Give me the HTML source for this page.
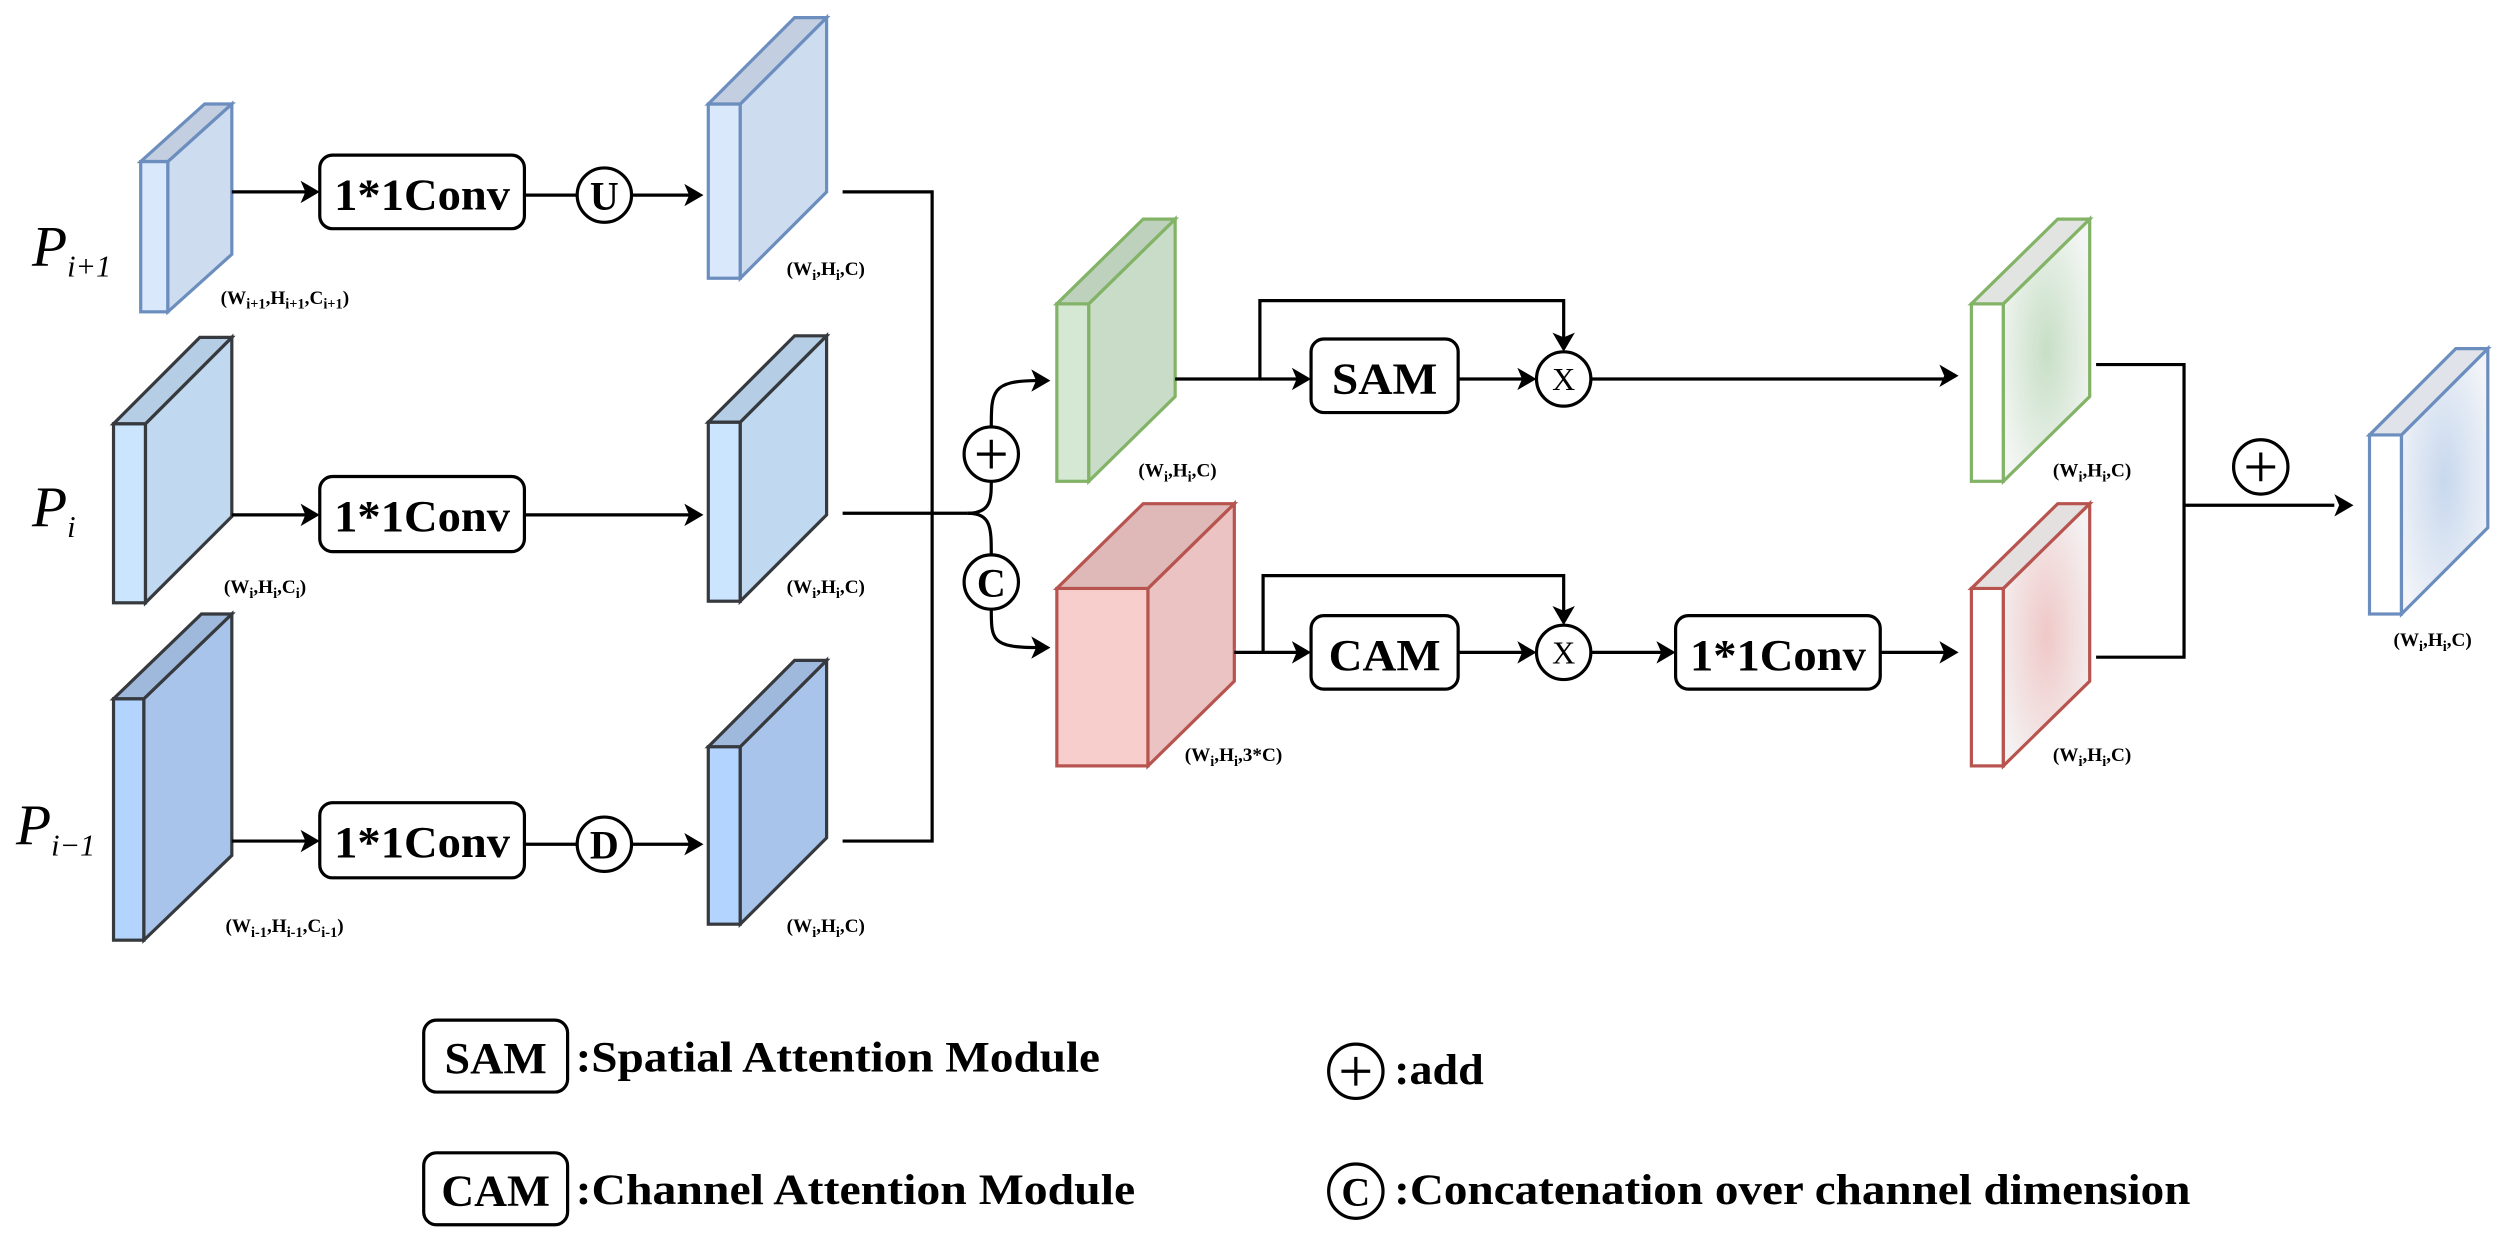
<!DOCTYPE html>
<html><head><meta charset="utf-8"><style>
html,body{margin:0;padding:0;background:#fff;}
svg{display:block;}
text{font-family:"Liberation Serif",serif;font-weight:bold;fill:#000;}
text.n, tspan.n{font-weight:normal;}
</style></head><body>
<svg width="2507" height="1244" viewBox="0 0 1568 778" xmlns="http://www.w3.org/2000/svg">
<defs>
<radialGradient id="gg" cx="0.5" cy="0.5" r="0.6"><stop offset="0" stop-color="#c7dfc6"/><stop offset="1" stop-color="#f4f6f4"/></radialGradient>
<radialGradient id="gr" cx="0.5" cy="0.5" r="0.6"><stop offset="0" stop-color="#f0c8c8"/><stop offset="1" stop-color="#f4f2f2"/></radialGradient>
<radialGradient id="gb" cx="0.5" cy="0.5" r="0.6"><stop offset="0" stop-color="#c8d8ee"/><stop offset="1" stop-color="#f2f4f8"/></radialGradient>
</defs>
<g stroke-width="2">
<g stroke="#6c8ebf"><rect x="88" y="101" width="17" height="94" fill="#dae8fc"/><path d="M105,101L145,65L145,159L105,195Z" fill="#cddcef"/><path d="M88,101L128,65L145,65L105,101Z" fill="#c3cfe0"/></g>
<g stroke="#36393d"><rect x="71" y="265" width="20" height="112" fill="#cce5ff"/><path d="M91,265L145,211L145,323L91,377Z" fill="#c0d8f0"/><path d="M71,265L125,211L145,211L91,265Z" fill="#b6cde6"/></g>
<g stroke="#36393d"><rect x="71" y="437" width="19" height="151" fill="#b3d4ff"/><path d="M90,437L145,384L145,535L90,588Z" fill="#a9c4eb"/><path d="M71,437L126,384L145,384L90,437Z" fill="#9fb9dc"/></g>
<g stroke="#6c8ebf"><rect x="443" y="65" width="20" height="109" fill="#dae8fc"/><path d="M463,65L517,11L517,120L463,174Z" fill="#cddcef"/><path d="M443,65L497,11L517,11L463,65Z" fill="#c3cfe0"/></g>
<g stroke="#36393d"><rect x="443" y="264" width="20" height="112" fill="#cce5ff"/><path d="M463,264L517,210L517,322L463,376Z" fill="#c0d8f0"/><path d="M443,264L497,210L517,210L463,264Z" fill="#b6cde6"/></g>
<g stroke="#36393d"><rect x="443" y="467" width="20" height="111" fill="#b3d4ff"/><path d="M463,467L517,413L517,524L463,578Z" fill="#a9c4eb"/><path d="M443,467L497,413L517,413L463,467Z" fill="#9fb9dc"/></g>
<g stroke="#82b366"><rect x="661" y="190" width="20" height="111" fill="#d5e8d4"/><path d="M681,190L735,137L735,248L681,301Z" fill="#c9dcc8"/><path d="M661,190L715,137L735,137L681,190Z" fill="#bed1bd"/></g>
<g stroke="#b85450"><rect x="661" y="368" width="57" height="111" fill="#f8cecc"/><path d="M718,368L772,315L772,426L718,479Z" fill="#ebc3c2"/><path d="M661,368L715,315L772,315L718,368Z" fill="#deb9b8"/></g>
<g stroke="#82b366"><rect x="1233" y="190" width="20" height="111" fill="#fff"/><path d="M1253,190L1307,137L1307,248L1253,301Z" fill="url(#gg)"/><path d="M1233,190L1287,137L1307,137L1253,190Z" fill="#e2e4e2"/></g>
<g stroke="#b85450"><rect x="1233" y="368" width="20" height="111" fill="#fff"/><path d="M1253,368L1307,315L1307,426L1253,479Z" fill="url(#gr)"/><path d="M1233,368L1287,315L1307,315L1253,368Z" fill="#e4e0e0"/></g>
<g stroke="#6c8ebf"><rect x="1482" y="272" width="20" height="112" fill="#fff"/><path d="M1502,272L1556,218L1556,330L1502,384Z" fill="url(#gb)"/><path d="M1482,272L1536,218L1556,218L1502,272Z" fill="#e0e3ea"/></g>
</g>

<g stroke="#000" stroke-width="2" fill="none">
<path d="M145,120H192"/><path d="M328,122H361"/><path d="M395,122H432"/>
<path d="M145,322H192"/><path d="M328,322H432"/>
<path d="M145,526H192"/><path d="M328,528H361"/><path d="M395,528H432"/>
<path d="M527,120H583V526H527"/>
<path d="M527,321H605"/>
<path d="M605,321C620,321 620,312 620,301"/><path d="M620,267C620,245 620,238 649,238"/>
<path d="M605,321C620,321 620,330 620,347"/><path d="M620,381C620,400 620,405 649,405"/>
<path d="M735,237H812"/><path d="M788,237V188H978V212"/>
<path d="M912,237H953"/><path d="M995,237H1217"/>
<path d="M772,408H812"/><path d="M790,408V360H978V383"/>
<path d="M912,408H953"/><path d="M995,408H1040"/><path d="M1176,408H1217"/>
<path d="M1311,228H1366V411H1311"/><path d="M1366,316H1460"/>
</g>
<g fill="#000">
<path d="M200,120l-12,-7 3,7 -3,7z"/>
<path d="M440,122l-12,-7 3,7 -3,7z"/>
<path d="M200,322l-12,-7 3,7 -3,7z"/>
<path d="M440,322l-12,-7 3,7 -3,7z"/>
<path d="M200,526l-12,-7 3,7 -3,7z"/>
<path d="M440,528l-12,-7 3,7 -3,7z"/>
<path d="M657,238l-12,-7 3,7 -3,7z"/>
<path d="M657,405l-12,-7 3,7 -3,7z"/>
<path d="M820,237l-12,-7 3,7 -3,7z"/>
<path d="M961,237l-12,-7 3,7 -3,7z"/>
<path d="M1225,235l-12,-7 3,7 -3,7z"/>
<path d="M978,220l-7,-12 7,3 7,-3z"/>
<path d="M820,408l-12,-7 3,7 -3,7z"/>
<path d="M961,408l-12,-7 3,7 -3,7z"/>
<path d="M1048,408l-12,-7 3,7 -3,7z"/>
<path d="M1225,408l-12,-7 3,7 -3,7z"/>
<path d="M978,391l-7,-12 7,3 7,-3z"/>
<path d="M1472,316l-12,-7 3,7 -3,7z"/>
</g>

<g fill="#fff" stroke="#000" stroke-width="2">
<rect x="200" y="97" width="128" height="46" rx="8"/>
<rect x="200" y="298" width="128" height="47" rx="8"/>
<rect x="200" y="502" width="128" height="47" rx="8"/>
<rect x="820" y="212" width="92" height="46" rx="8"/>
<rect x="820" y="385" width="92" height="46" rx="8"/>
<rect x="1048" y="385" width="128" height="46" rx="8"/>
<rect x="265" y="638" width="90" height="45" rx="8"/>
<rect x="265" y="721" width="90" height="45" rx="8"/>
<circle cx="378" cy="122" r="17"/><circle cx="378" cy="528" r="17"/>
<circle cx="620" cy="284" r="17"/><circle cx="620" cy="364" r="17"/>
<circle cx="978" cy="237" r="17"/><circle cx="978" cy="408" r="17"/>
<circle cx="1414" cy="292" r="17"/>
<circle cx="848" cy="670" r="17"/><circle cx="848" cy="745" r="17"/>
</g>
<g stroke="#000" stroke-width="2">
<path d="M611,284h18M620,275v18"/><path d="M1405,292h18M1414,283v18"/><path d="M839,670h18M848,661v18"/>
</g>

<g font-size="28" text-anchor="middle">
<text x="264" y="131" textLength="110" lengthAdjust="spacingAndGlyphs">1*1Conv</text>
<text x="264" y="332" textLength="110" lengthAdjust="spacingAndGlyphs">1*1Conv</text>
<text x="264" y="536" textLength="110" lengthAdjust="spacingAndGlyphs">1*1Conv</text>
<text x="866" y="246" textLength="66" lengthAdjust="spacingAndGlyphs">SAM</text>
<text x="866" y="419" textLength="70" lengthAdjust="spacingAndGlyphs">CAM</text>
<text x="1112" y="419" textLength="110" lengthAdjust="spacingAndGlyphs">1*1Conv</text>
<text x="310" y="671" textLength="64" lengthAdjust="spacingAndGlyphs">SAM</text>
<text x="310" y="754" textLength="68" lengthAdjust="spacingAndGlyphs">CAM</text>
<text x="378" y="131" font-size="25">U</text>
<text x="378" y="537" font-size="25">D</text>
<text x="620" y="373" font-size="25">C</text>
<text x="848" y="754" font-size="25">C</text>
<text x="978" y="244" font-size="20" class="n">X</text>
<text x="978" y="415" font-size="20" class="n">X</text>
</g>
<g font-size="27">
<text x="360" y="670" textLength="328" lengthAdjust="spacingAndGlyphs">:Spatial Attention Module</text>
<text x="360" y="753" textLength="350" lengthAdjust="spacingAndGlyphs">:Channel Attention Module</text>
<text x="872" y="678" textLength="56" lengthAdjust="spacingAndGlyphs">:add</text>
<text x="872" y="753" textLength="498" lengthAdjust="spacingAndGlyphs">:Concatenation over channel dimension</text>
</g>
<g font-size="36" font-style="italic">
<text class="n" x="20" y="166">P<tspan class="n" font-size="19" dy="7">i+1</tspan></text>
<text class="n" x="20" y="329">P<tspan class="n" font-size="19" dy="7">i</tspan></text>
<text class="n" x="10" y="528">P<tspan class="n" font-size="19" dy="7">i−1</tspan></text>
</g>
<g font-size="12">
<text x="138" y="190">(W<tspan font-size="9" dy="3">i+1</tspan><tspan dy="-3">,H</tspan><tspan font-size="9" dy="3">i+1</tspan><tspan dy="-3">,C</tspan><tspan font-size="9" dy="3">i+1</tspan><tspan dy="-3">)</tspan></text>
<text x="140" y="371">(W<tspan font-size="9" dy="3">i</tspan><tspan dy="-3">,H</tspan><tspan font-size="9" dy="3">i</tspan><tspan dy="-3">,C</tspan><tspan font-size="9" dy="3">i</tspan><tspan dy="-3">)</tspan></text>
<text x="141" y="583">(W<tspan font-size="9" dy="3">i-1</tspan><tspan dy="-3">,H</tspan><tspan font-size="9" dy="3">i-1</tspan><tspan dy="-3">,C</tspan><tspan font-size="9" dy="3">i-1</tspan><tspan dy="-3">)</tspan></text>
<text x="492" y="172">(W<tspan font-size="9" dy="3">i</tspan><tspan dy="-3">,H</tspan><tspan font-size="9" dy="3">i</tspan><tspan dy="-3">,C)</tspan></text>
<text x="492" y="371">(W<tspan font-size="9" dy="3">i</tspan><tspan dy="-3">,H</tspan><tspan font-size="9" dy="3">i</tspan><tspan dy="-3">,C)</tspan></text>
<text x="492" y="583">(W<tspan font-size="9" dy="3">i</tspan><tspan dy="-3">,H</tspan><tspan font-size="9" dy="3">i</tspan><tspan dy="-3">,C)</tspan></text>
<text x="712" y="298">(W<tspan font-size="9" dy="3">i</tspan><tspan dy="-3">,H</tspan><tspan font-size="9" dy="3">i</tspan><tspan dy="-3">,C)</tspan></text>
<text x="741" y="476">(W<tspan font-size="9" dy="3">i</tspan><tspan dy="-3">,H</tspan><tspan font-size="9" dy="3">i</tspan><tspan dy="-3">,3*C)</tspan></text>
<text x="1284" y="298">(W<tspan font-size="9" dy="3">i</tspan><tspan dy="-3">,H</tspan><tspan font-size="9" dy="3">i</tspan><tspan dy="-3">,C)</tspan></text>
<text x="1284" y="476">(W<tspan font-size="9" dy="3">i</tspan><tspan dy="-3">,H</tspan><tspan font-size="9" dy="3">i</tspan><tspan dy="-3">,C)</tspan></text>
<text x="1497" y="404">(W<tspan font-size="9" dy="3">i</tspan><tspan dy="-3">,H</tspan><tspan font-size="9" dy="3">i</tspan><tspan dy="-3">,C)</tspan></text>
</g>
</svg>
</body></html>
